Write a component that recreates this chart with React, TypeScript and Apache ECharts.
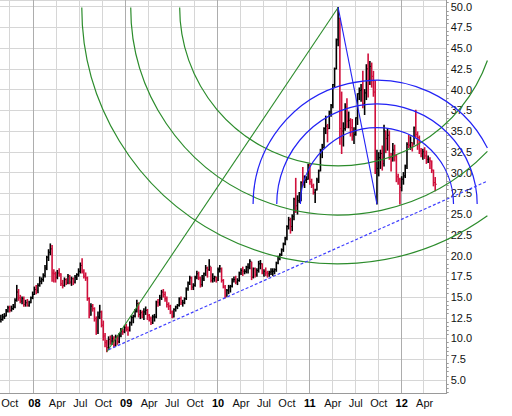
import React, { useEffect, useRef } from 'react';
import * as echarts from 'echarts';

// ---- categories: week-ending Fridays ----
const FIRST_WEEK_END = '2007-08-31';
const AXIS_WEEKS = 253; // axis runs through 2012-06-29
const MONTH_NAMES = ['Jan', 'Feb', 'Mar', 'Apr', 'May', 'Jun', 'Jul', 'Aug', 'Sep', 'Oct', 'Nov', 'Dec'];
const QUARTER_MONTHS = [0, 3, 6, 9];

// ---- weekly bars [high, low, close] ----
const bars2007 = [
  [12.8, 12.0, 12.3], [12.9, 12.2, 12.6], [13.0, 12.4, 12.7], [13.5, 12.7, 13.3], [13.9, 13.2, 13.7],
  [13.9, 13.2, 13.4], [13.9, 13.3, 13.6], [14.1, 13.5, 13.8], [14.8, 13.7, 14.6], [16.4, 14.5, 15.6],
  [15.9, 14.6, 14.9], [15.2, 14.3, 14.5], [15.0, 14.2, 14.8], [15.0, 13.9, 14.1], [14.6, 13.9, 14.3],
  [14.7, 13.9, 14.0], [14.5, 13.9, 14.3], [15.0, 14.3, 14.9],
];
const bars2008 = [
  [15.6, 14.8, 15.3], [16.2, 15.3, 15.9], [16.4, 15.4, 15.8], [16.6, 15.5, 16.4], [17.4, 16.3, 16.9],
  [17.3, 16.6, 17.1], [17.8, 16.9, 17.6], [18.8, 17.4, 18.5], [19.9, 18.3, 19.8], [20.7, 19.4, 20.4],
  [21.4, 20.1, 20.8], [21.2, 16.9, 17.9], [18.3, 16.8, 17.8], [18.0, 16.8, 17.4], [18.2, 17.2, 17.9],
  [18.4, 17.5, 17.8], [17.8, 16.4, 16.6], [17.0, 16.1, 16.4], [17.3, 16.3, 17.1], [17.2, 16.5, 16.7],
  [17.7, 16.6, 17.5], [17.6, 16.6, 16.8], [17.4, 16.4, 17.2], [17.3, 16.5, 16.8], [17.6, 16.7, 17.4],
  [17.8, 17.1, 17.7], [18.4, 17.5, 18.1], [19.1, 17.9, 18.8], [19.6, 17.9, 18.1], [18.3, 17.3, 17.5],
  [17.9, 17.0, 17.3], [17.4, 14.6, 14.8], [14.9, 12.5, 12.8], [14.2, 12.8, 13.9], [14.1, 13.3, 13.6],
  [13.7, 12.1, 12.4], [12.6, 10.5, 10.9], [13.2, 10.6, 12.6], [14.0, 12.4, 13.2], [13.3, 11.4, 11.6],
  [12.1, 9.8, 10.3], [10.6, 9.0, 9.5], [9.8, 8.4, 8.9], [10.2, 8.65, 9.9], [10.3, 9.3, 9.7],
  [10.4, 9.3, 10.0], [10.2, 9.0, 9.2], [10.4, 9.1, 10.2], [10.3, 9.3, 9.6], [10.6, 9.5, 10.3],
  [11.2, 10.2, 10.9], [11.1, 10.5, 10.8],
];
const bars2009 = [
  [11.5, 10.7, 11.3], [11.7, 10.9, 11.1], [11.4, 10.4, 11.0], [12.0, 10.9, 11.9], [12.7, 11.6, 12.5],
  [12.8, 11.9, 12.7], [13.5, 12.6, 13.3], [14.6, 13.2, 14.2], [14.3, 12.6, 12.9], [13.4, 12.4, 13.1],
  [13.3, 12.5, 12.9], [13.6, 12.3, 13.2], [13.8, 12.9, 13.4], [13.5, 12.3, 12.8], [12.9, 12.1, 12.4],
  [12.6, 11.7, 11.9], [12.8, 11.8, 12.6], [12.9, 12.1, 12.6], [14.5, 12.5, 14.4], [14.7, 13.9, 14.3],
  [15.2, 14.0, 14.9], [15.8, 14.7, 15.6], [15.9, 15.0, 15.3], [15.6, 14.5, 14.8], [15.0, 13.8, 14.1],
  [14.3, 13.5, 13.9], [14.0, 13.0, 13.2], [13.3, 12.5, 12.6], [13.6, 12.6, 13.5], [13.9, 13.3, 13.8],
  [14.1, 13.6, 14.0], [14.9, 13.9, 14.8], [15.0, 14.1, 14.3], [14.6, 13.9, 14.3], [14.9, 14.2, 14.8],
  [16.1, 14.7, 16.0], [16.8, 15.8, 16.7], [17.5, 16.5, 17.3], [17.4, 15.9, 16.2], [16.6, 15.9, 16.4],
  [17.5, 16.3, 17.4], [18.1, 17.2, 17.8], [18.0, 17.1, 17.3], [17.4, 16.2, 16.5], [17.6, 16.3, 17.2],
  [17.9, 17.0, 17.8], [18.8, 17.6, 18.5], [18.6, 17.4, 18.3], [19.5, 18.2, 18.7], [18.6, 16.8, 17.0],
  [17.8, 16.8, 17.2], [17.5, 16.9, 17.4],
];
const bars2010 = [
  [17.4, 16.8, 17.0], [18.5, 17.0, 18.3], [18.8, 18.0, 18.4], [18.5, 16.8, 17.0], [17.1, 16.1, 16.2],
  [16.4, 14.9, 15.0], [15.9, 15.1, 15.8], [16.4, 15.4, 16.2], [16.4, 15.6, 16.3], [17.2, 16.2, 17.1],
  [17.4, 16.8, 17.1], [17.5, 16.6, 16.8], [17.2, 16.5, 17.0], [18.0, 16.9, 17.9], [18.4, 17.7, 18.2],
  [18.6, 17.6, 18.1], [18.3, 17.8, 18.1], [18.7, 17.9, 18.6], [19.0, 17.9, 18.6], [19.5, 18.4, 19.3],
  [19.2, 17.1, 17.4], [18.5, 17.3, 18.4], [18.5, 17.4, 17.7], [18.4, 17.5, 18.2], [19.3, 18.0, 19.0],
  [19.4, 18.4, 19.0], [19.0, 17.8, 17.9], [18.3, 17.5, 18.1], [18.5, 17.6, 17.9], [18.1, 17.4, 17.8],
  [18.1, 17.5, 18.0], [18.4, 17.7, 18.1], [18.4, 17.6, 18.1], [18.4, 17.8, 18.3], [19.2, 18.1, 19.1],
  [19.9, 19.0, 19.8], [20.2, 19.5, 20.1], [20.8, 20.0, 20.7], [21.5, 20.5, 21.4], [22.2, 21.3, 22.1],
  [23.6, 21.9, 23.5], [24.6, 23.2, 24.3], [24.5, 22.7, 23.5], [24.9, 23.0, 24.7], [26.9, 24.3, 26.8],
  [29.3, 25.2, 26.0], [27.2, 25.0, 26.6], [27.6, 26.4, 26.9], [28.9, 26.6, 28.8], [30.6, 28.4, 28.6],
  [29.6, 28.2, 29.1], [29.5, 28.8, 29.2], [31.0, 29.2, 30.9],
];
const bars2011 = [
  [31.1, 28.6, 28.9], [29.2, 28.2, 28.4], [28.6, 27.4, 27.6], [28.0, 26.4, 27.9], [29.3, 27.9, 29.1],
  [30.3, 28.8, 30.2], [32.8, 30.2, 32.7], [33.4, 31.8, 33.0], [35.4, 33.0, 35.3], [36.8, 34.7, 35.6],
  [35.8, 33.7, 35.3], [37.4, 35.3, 37.3], [38.2, 36.8, 38.1], [40.6, 37.8, 40.6], [42.6, 40.3, 42.5],
  [46.1, 42.5, 46.0], [49.9, 45.3, 48.6], [48.6, 33.4, 35.3], [39.7, 32.3, 35.0], [36.0, 33.2, 35.3],
  [38.3, 35.1, 37.9], [38.9, 35.4, 36.2], [37.3, 35.4, 36.3], [36.5, 34.4, 35.4], [36.4, 33.9, 34.4],
  [35.4, 33.5, 34.6], [36.6, 34.5, 36.6], [39.5, 35.8, 39.5], [40.2, 38.8, 39.9], [40.6, 38.6, 40.0],
  [42.2, 37.8, 38.3], [40.0, 37.0, 39.6], [43.0, 38.8, 42.5], [44.3, 39.1, 41.2], [43.4, 40.6, 42.8],
  [43.2, 40.3, 41.6], [42.2, 39.2, 39.7], [41.0, 29.9, 30.0], [32.7, 26.2, 30.5], [32.4, 29.6, 31.8],
  [32.7, 30.5, 32.3], [33.2, 30.3, 31.1], [35.7, 30.8, 35.0], [35.0, 32.4, 34.1], [35.3, 32.7, 34.5],
  [35.0, 31.6, 31.8], [32.3, 30.2, 31.4], [33.5, 31.4, 32.7], [33.3, 31.4, 32.0], [32.1, 28.9, 29.5],
  [29.8, 28.6, 29.2], [29.3, 26.2, 28.2],
];
const bars2012 = [
  [29.5, 27.8, 29.2], [30.0, 28.6, 29.6], [30.9, 29.4, 30.8], [33.6, 30.5, 33.4], [34.5, 33.0, 33.3],
  [34.3, 32.8, 33.6], [33.6, 32.6, 33.3], [35.5, 33.4, 35.4], [37.5, 34.3, 34.6], [34.9, 32.8, 34.2],
  [34.4, 32.3, 32.6], [32.9, 31.9, 32.3], [32.8, 31.6, 32.5], [33.0, 31.7, 32.0], [32.6, 31.1, 31.6],
  [32.0, 31.2, 31.6], [31.8, 30.5, 31.4], [31.4, 30.0, 30.3], [30.3, 28.4, 28.8], [29.4, 27.8, 28.6],
];

// ---- drawing anchors [week, value] ----
const swingLow: [string, number] = ['2008-10-24', 8.4];
const swingHigh: [string, number] = ['2011-04-29', 49.9];
const swingLow2: [string, number] = ['2011-09-30', 26.2];
const trendStart: [string, number] = ['2008-10-31', 8.65];
const trendEnd: [string, number] = ['2010-02-05', 14.9];
const FIB_RATIOS = [0.382, 0.5, 0.618];

// ---- value axis ----
const Y_MIN = 3.43;
const Y_MAX = 50.8;
const Y_STEP = 2.5;

// ---- styles ----
const RED = '#d0103c';
const BLACK = '#000000';
const GREEN = '#2c8c2c';
const BLUE = '#2323f5';
const DASH_BLUE = '#4040ff';
const LIGHT_GRID = '#d6d6d6';
const YEAR_GRID = '#adadad';
const AXIS_GRAY = '#9a9a9a';
const FONT = "'Liberation Sans', Arial, Helvetica, sans-serif";
const OVERHANG = 40.7; // drawing tools run past the plot edge

const DAY = 86400000;
const weekDates: Date[] = [];
const t0 = Date.parse(FIRST_WEEK_END + 'T00:00:00Z');
for (let i = 0; i < AXIS_WEEKS; i++) weekDates.push(new Date(t0 + i * 7 * DAY));
const weekLabels = weekDates.map((d) => d.toISOString().slice(0, 10));

const isQuarterStart = (i: number) => {
  const d = weekDates[i];
  if (!d) return false;
  const day = d.getUTCDate();
  return QUARTER_MONTHS.includes(d.getUTCMonth()) && day >= 5 && day <= 11;
};
const isYearStart = (i: number) => isQuarterStart(i) && weekDates[i].getUTCMonth() === 0;

const bars = [...bars2007, ...bars2008, ...bars2009, ...bars2010, ...bars2011, ...bars2012];
const hlcData = bars.map(([h, l, c], i) => [i, h, l, c, i === 0 || c >= bars[i - 1][2] ? 1 : 0]);

const idxOf = (d: string) => weekLabels.indexOf(d);
const greenArcs = FIB_RATIOS.map((r) => [idxOf(swingHigh[0]), swingHigh[1], idxOf(swingLow[0]), swingLow[1], r, 1]);
const blueArcs = FIB_RATIOS.map((r) => [idxOf(swingLow2[0]), swingLow2[1], idxOf(swingHigh[0]), swingHigh[1], r, -1]);
const toolLines = [
  [idxOf(swingLow[0]), swingLow[1], idxOf(swingHigh[0]), swingHigh[1], 0],
  [idxOf(swingHigh[0]), swingHigh[1], idxOf(swingLow2[0]), swingLow2[1], 0],
  [idxOf(trendStart[0]), trendStart[1], idxOf(trendEnd[0]), trendEnd[1], 1],
];
const toolLineStyles = [
  { stroke: GREEN, lineWidth: 1.1 },
  { stroke: BLUE, lineWidth: 1.1 },
  { stroke: DASH_BLUE, lineWidth: 1.2, lineDash: [3, 2] },
];

function arcRenderer(color: string) {
  return (params: any, api: any) => {
    const c = api.coord([api.value(0), api.value(1)]);
    const f = api.coord([api.value(2), api.value(3)]);
    const r = Math.hypot(c[0] - f[0], c[1] - f[1]) * api.value(4);
    const cs = params.coordSys;
    const xClip = cs.x + cs.width + OVERHANG;
    let a0 = 0;
    if (c[0] + r > xClip) a0 = Math.acos(Math.max(-1, Math.min(1, (xClip - c[0]) / r)));
    const lower = api.value(5) > 0;
    const shape = lower
      ? { cx: c[0], cy: c[1], r, startAngle: a0, endAngle: Math.PI, clockwise: true }
      : { cx: c[0], cy: c[1], r, startAngle: Math.PI, endAngle: 2 * Math.PI - a0, clockwise: true };
    return { type: 'arc', shape, style: { stroke: color, fill: 'none', lineWidth: 1.2 } };
  };
}

export default function App() {
  const ref = useRef<HTMLDivElement>(null);
  useEffect(() => {
    if (!ref.current) return;
    const chart = echarts.init(ref.current, undefined, { renderer: 'svg' });
    const labelText = { fontFamily: FONT, fontSize: 11, color: '#111' };
    chart.setOption({
      animation: false,
      backgroundColor: '#ffffff',
      grid: { left: 0, right: 65.3, top: 0, bottom: 23, containLabel: false, outerBoundsMode: 'none' },
      xAxis: [
        {
          type: 'category',
          data: weekLabels,
          boundaryGap: true,
          position: 'bottom',
          axisLine: { show: true, lineStyle: { color: AXIS_GRAY, width: 1 } },
          axisTick: { show: false },
          axisLabel: {
            interval: (i: number) => isQuarterStart(i),
            margin: 4,
            ...labelText,
            formatter: (value: string) => {
              const d = new Date(value + 'T00:00:00Z');
              const m = d.getUTCMonth();
              if (m === 0) return `{y|${String(d.getUTCFullYear()).slice(2)}}`;
              return `{m|${MONTH_NAMES[m]}}`;
            },
            rich: {
              y: { fontFamily: FONT, fontSize: 11, fontWeight: 'bold', color: '#000' },
              m: { fontFamily: FONT, fontSize: 11, color: '#111' },
            },
          },
          splitLine: {
            show: true,
            interval: (i: number) => isQuarterStart(i) && !isYearStart(i),
            lineStyle: { color: LIGHT_GRID, width: 1 },
          },
        },
        {
          type: 'category',
          data: weekLabels,
          boundaryGap: true,
          position: 'top',
          axisLine: { show: false },
          axisTick: { show: false },
          axisLabel: { show: false },
          splitLine: {
            show: true,
            interval: (i: number) => isYearStart(i),
            lineStyle: { color: YEAR_GRID, width: 1 },
          },
        },
      ],
      yAxis: {
        type: 'value',
        position: 'right',
        min: Y_MIN,
        max: Y_MAX,
        minInterval: Y_STEP,
        maxInterval: Y_STEP,
        axisLine: { show: true, lineStyle: { color: AXIS_GRAY, width: 1 } },
        axisTick: { show: false },
        minorTick: { show: true, splitNumber: 5, length: 2, lineStyle: { color: AXIS_GRAY } },
        axisLabel: {
          margin: 4,
          showMinLabel: false,
          showMaxLabel: false,
          ...labelText,
          formatter: (v: number) => v.toFixed(1),
        },
        splitLine: { show: true, lineStyle: { color: LIGHT_GRID, width: 1 } },
      },
      series: [
        {
          type: 'custom',
          name: 'weekly',
          xAxisIndex: 0,
          clip: true,
          data: hlcData,
          renderItem: (params: any, api: any) => {
            const i = api.value(0);
            const hi = api.coord([i, api.value(1)]);
            const lo = api.coord([i, api.value(2)]);
            const cl = api.coord([i, api.value(3)]);
            const color = api.value(4) > 0 ? BLACK : RED;
            return {
              type: 'group',
              children: [
                { type: 'line', shape: { x1: hi[0], y1: hi[1] - 0.5, x2: lo[0], y2: lo[1] + 0.5 }, style: { stroke: color, lineWidth: 1.6 } },
                { type: 'line', shape: { x1: cl[0], y1: cl[1], x2: cl[0] + 1.6, y2: cl[1] }, style: { stroke: color, lineWidth: 1.1 } },
              ],
            };
          },
          z: 2,
        },
        {
          type: 'custom',
          name: 'greenArcs',
          xAxisIndex: 0,
          clip: false,
          data: greenArcs,
          renderItem: arcRenderer(GREEN),
          z: 3,
        },
        {
          type: 'custom',
          name: 'blueArcs',
          xAxisIndex: 0,
          clip: false,
          data: blueArcs,
          renderItem: arcRenderer(BLUE),
          z: 3,
        },
        {
          type: 'custom',
          name: 'toolLines',
          xAxisIndex: 0,
          clip: false,
          data: toolLines,
          renderItem: (params: any, api: any) => {
            const p1 = api.coord([api.value(0), api.value(1)]);
            let p2 = api.coord([api.value(2), api.value(3)]);
            if (api.value(4) > 0) {
              const cs = params.coordSys;
              const xClip = cs.x + cs.width + OVERHANG;
              const t = (xClip - p1[0]) / (p2[0] - p1[0]);
              p2 = [xClip, p1[1] + t * (p2[1] - p1[1])];
            }
            const st = toolLineStyles[params.dataIndex];
            return { type: 'line', shape: { x1: p1[0], y1: p1[1], x2: p2[0], y2: p2[1] }, style: { ...st } };
          },
          z: 4,
        },
      ],
    });
    return () => chart.dispose();
  }, []);
  return <div ref={ref} style={{ position: 'absolute', left: 0, top: 0, width: 512, height: 416 }} />;
}
